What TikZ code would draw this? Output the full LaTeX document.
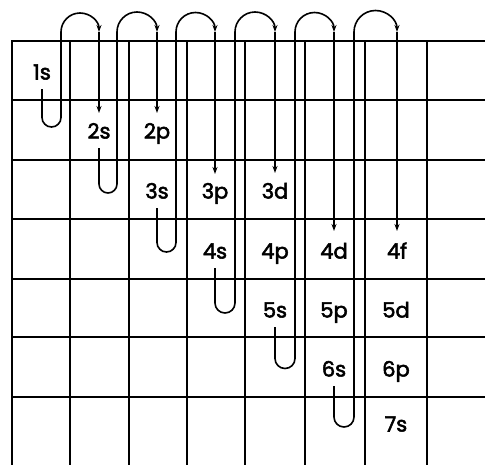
\documentclass[tikz,border=0pt]{standalone}
\usepackage{fontspec}
\setmainfont{Poppins}[FakeBold=2.5]
\usetikzlibrary{arrows.meta}
\tikzset{
  gridline/.style={line width=1.7pt, line cap=rect},
  loopline/.style={line width=1.6pt},
  tip/.style={loopline, -{Stealth[length=7pt,width=5pt]}},
  orb/.style={inner sep=0pt, text height=15pt, text depth=0pt,
              font=\fontsize{21}{23}\selectfont}
}
\begin{document}
\begin{tikzpicture}[x=1pt,y=-1pt]
\useasboundingbox (0,0) rectangle (485,464);
% grid
\foreach \yy in {41,100,160,219,279,337,397}
  \draw[gridline] (12,\yy) -- (485,\yy);
\foreach \xx in {12,70,129,187,245,305,365,427}
  \draw[gridline] (\xx,41) -- (\xx,464);
% labels
\node[orb] (s1) at (42,72) {1s};
\node[orb] (s2) at (99,131) {2s};
\node[orb] (p2) at (157,131) {2p};
\node[orb] (s3) at (157,191) {3s};
\node[orb] (p3) at (215,191) {3p};
\node[orb] (d3) at (275,191) {3d};
\node[orb] (s4) at (215,251) {4s};
\node[orb] (p4) at (275,251) {4p};
\node[orb] (d4) at (334,251) {4d};
\node[orb] (f4) at (397,251) {4f};
\node[orb] (s5) at (275,310) {5s};
\node[orb] (p5) at (334,310) {5p};
\node[orb] (d5) at (396,310) {5d};
\node[orb] (s6) at (334,369) {6s};
\node[orb] (p6) at (396,369) {6p};
\node[orb] (s7) at (396,424) {7s};
% top points of the down arrows
\coordinate (t2) at (99,32);
\coordinate (t3) at (157,32);
\coordinate (t4) at (215,32);
\coordinate (t5) at (275,32);
\coordinate (t6) at (334,32);
\coordinate (t7) at (397,32);
% loops: label -> U turn -> up -> arc over the top (ending at t_k)
\draw[tip] (s1.center) ++(0,17) -- (42,117.5) arc[start angle=180,end angle=0,radius=9.5]
  -- (61,32) arc[start angle=180,end angle=360,radius=19];
\draw[tip] (s2.center) ++(0,17) -- (99,184) arc[start angle=180,end angle=0,radius=9]
  -- (117,32) arc[start angle=180,end angle=360,radius=20];
\draw[tip] (s3.center) ++(0,17) -- (157,242.5) arc[start angle=180,end angle=0,radius=9.5]
  -- (176,32) arc[start angle=180,end angle=360,radius=19.5];
\draw[tip] (s4.center) ++(0,17) -- (215,303) arc[start angle=180,end angle=0,radius=10]
  -- (235,32) arc[start angle=180,end angle=360,radius=20];
\draw[tip] (s5.center) ++(0,17) -- (275,358.5) arc[start angle=180,end angle=0,radius=10]
  -- (295,32) arc[start angle=180,end angle=360,radius=19.5];
\draw[tip] (s6.center) ++(0,17) -- (334,417) arc[start angle=180,end angle=0,radius=10]
  -- (354,32) arc[start angle=180,end angle=360,radius=21.5];
% down arrows to the first label of each column
\draw[tip] (t2) -- ([yshift=18pt]s2.center);
\draw[tip] (t3) -- ([yshift=18pt]p2.center);
\draw[tip] (t4) -- ([yshift=17pt]p3.center);
\draw[tip] (t5) -- ([yshift=18pt]d3.center);
\draw[tip] (t6) -- ([yshift=20pt]d4.center);
\draw[tip] (t7) -- ([yshift=20pt]f4.center);
\end{tikzpicture}
\end{document}
